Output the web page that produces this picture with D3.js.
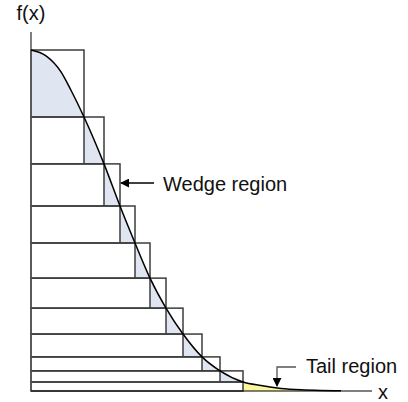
<!DOCTYPE html>
<html>
<head>
<meta charset="utf-8">
<script src="https://cdn.jsdelivr.net/npm/d3@7/dist/d3.min.js"></script>
<style>
  html, body { margin: 0; padding: 0; background: #fff; }
  svg { display: block; }
  text { font-family: "Liberation Sans", Arial, Helvetica, sans-serif; fill: #111; }
</style>
</head>
<body>
<svg id="chart" width="408" height="402"></svg>
<script>
// Ziggurat layers: right edge x_i of each layer and the density level f(x_i) at its lower edge
const layerX = [1.06, 1.46, 1.78, 2.08, 2.38, 2.70, 3.04, 3.42, 3.78, 4.24];
const layerY = [0.8035, 0.666, 0.5425, 0.434, 0.331, 0.243, 0.167, 0.100, 0.059, 0.0264];

// Density curve f(x) sample points
const curveX = [0, 0.3, 0.6, 0.8, 1.06, 1.46, 1.78, 2.08, 2.38, 2.70, 3.04, 3.42, 3.78, 4.24, 4.6, 5.0, 5.4, 5.8, 6.2];
const curveY = [1, 0.983, 0.936, 0.882, 0.8035, 0.666, 0.5425, 0.434, 0.331, 0.243, 0.167, 0.100, 0.059, 0.0264, 0.0160, 0.0076, 0.0034, 0.0014, 0.0005];

// Labels
const yLabel = "f(x)";
const xLabel = "x";
const wedgeLabel = "Wedge region";
const tailLabel = "Tail region";

const svg = d3.select("#chart");
const x = d3.scaleLinear().domain([0, 6.82]).range([31, 372]);
const y = d3.scaleLinear().domain([0, 1]).range([391, 50]);

const pts = curveX.map((v, i) => [v, curveY[i]]);
const lineGen = d3.line().x(d => x(d[0])).y(d => y(d[1])).curve(d3.curveMonotoneX);
const areaGen = d3.area().x(d => x(d[0])).y0(y(0)).y1(d => y(d[1])).curve(d3.curveMonotoneX);

const defs = svg.append("defs");

// Wedge clip: the part of each layer beyond the previous layer's edge
const wedgeClip = defs.append("clipPath").attr("id", "wedgeClip");
layerX.forEach((xr, i) => {
  const xl = i === 0 ? 0 : layerX[i - 1];
  const yt = i === 0 ? 1 : layerY[i - 1];
  wedgeClip.append("rect")
    .attr("x", x(xl)).attr("y", y(yt))
    .attr("width", x(xr) - x(xl)).attr("height", y(layerY[i]) - y(yt));
});

// Tail clip: beyond the last layer edge, under the base level
const xn = layerX[layerX.length - 1];
const yn = layerY[layerY.length - 1];
defs.append("clipPath").attr("id", "tailClip").append("rect")
  .attr("x", x(xn)).attr("y", y(yn))
  .attr("width", x(6.82) - x(xn)).attr("height", y(0) - y(yn));

// Marker for arrows
defs.append("marker").attr("id", "arrow")
  .attr("viewBox", "0 0 10 10").attr("refX", 9).attr("refY", 5)
  .attr("markerWidth", 9).attr("markerHeight", 9)
  .attr("markerUnits", "userSpaceOnUse")
  .attr("orient", "auto")
  .append("path").attr("d", "M0,0 L10,5 L0,10 Z").attr("fill", "#000");

// Shaded regions
svg.append("path").datum(pts).attr("d", areaGen)
  .attr("fill", "#dfe5f1").attr("clip-path", "url(#wedgeClip)");
svg.append("path").datum(pts).attr("d", areaGen)
  .attr("fill", "#fbf79c").attr("clip-path", "url(#tailClip)");

// Layer rectangles and dividers
const boxes = svg.append("g").attr("fill", "none").attr("stroke", "#3c3c3c").attr("stroke-width", 1.5);
layerX.forEach((xr, i) => {
  const yt = i === 0 ? 1 : layerY[i - 1];
  boxes.append("rect")
    .attr("x", x(0)).attr("y", y(yt))
    .attr("width", x(xr) - x(0)).attr("height", y(layerY[i]) - y(yt));
  if (i > 0) {
    boxes.append("line")
      .attr("x1", x(layerX[i - 1])).attr("x2", x(layerX[i - 1]))
      .attr("y1", y(yt)).attr("y2", y(layerY[i]));
  }
});
// Base layer
boxes.append("rect")
  .attr("x", x(0)).attr("y", y(yn))
  .attr("width", x(xn) - x(0)).attr("height", y(0) - y(yn));

// Axes
svg.append("line").attr("x1", x(0)).attr("x2", x(0)).attr("y1", 32).attr("y2", y(0))
  .attr("stroke", "#555").attr("stroke-width", 1.5);
svg.append("line").attr("x1", x(0)).attr("x2", x(6.82)).attr("y1", y(0)).attr("y2", y(0))
  .attr("stroke", "#000").attr("stroke-width", 1.2);

// Density curve
svg.append("path").datum(pts).attr("d", lineGen)
  .attr("fill", "none").attr("stroke", "#000").attr("stroke-width", 1.5);

// Axis labels
svg.append("text").attr("x", x(0)).attr("y", 20).attr("text-anchor", "middle")
  .attr("font-size", 20).text(yLabel);
svg.append("text").attr("x", 383).attr("y", 399).attr("text-anchor", "middle")
  .attr("font-size", 20).text(xLabel);

// Wedge annotation
svg.append("line").attr("x1", 154).attr("x2", 121).attr("y1", 183).attr("y2", 183)
  .attr("stroke", "#000").attr("stroke-width", 1.3).attr("marker-end", "url(#arrow)");
svg.append("text").attr("x", 163).attr("y", 191).attr("font-size", 20).text(wedgeLabel);

// Tail annotation
svg.append("path").attr("d", "M296,367 H277 V386")
  .attr("fill", "none").attr("stroke", "#555").attr("stroke-width", 1.3).attr("marker-end", "url(#arrow)");
svg.append("text").attr("x", 306).attr("y", 373).attr("font-size", 20).text(tailLabel);
</script>
</body>
</html>
